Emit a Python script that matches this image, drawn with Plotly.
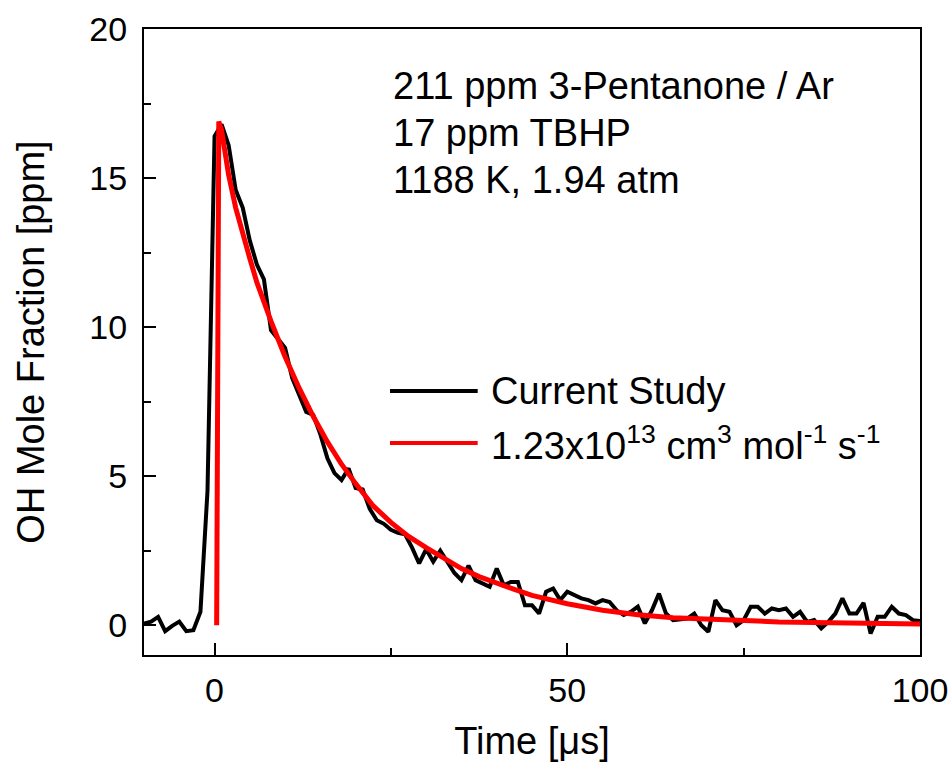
import plotly.graph_objects as go

# Measured OH trace (Current Study)
time_meas = list(range(-10, 101))
oh_meas = [
    0.05, 0.12, 0.28, -0.2, -0.02, 0.12, -0.2, -0.17, 0.45, 4.5,   # -10..-1
    16.4, 16.8, 16.1, 14.6, 14.0, 12.9, 12.1, 11.6, 9.9, 9.6,      # 0..9
    9.3, 8.3, 7.7, 7.15, 7.05, 6.4, 5.6, 5.1, 4.87, 5.26,          # 10..19
    4.6, 4.55, 3.9, 3.52, 3.4, 3.2, 3.1, 3.05, 2.6, 2.07,          # 20..29
    2.55, 2.13, 2.5, 2.13, 1.75, 1.51, 2.0, 1.51, 1.4, 1.29,       # 30..39
    1.9, 1.34, 1.45, 1.45, 0.67, 0.67, 0.39, 1.12, 1.23, 0.84,     # 40..49
    1.12, 1.0, 0.9, 0.84, 0.73, 0.84, 0.78, 0.5, 0.34, 0.45,       # 50..59
    0.62, 0.06, 0.5, 1.06, 0.39, 0.17, 0.2, 0.22, 0.39, 0.0,       # 60..69
    -0.22, 0.84, 0.5, 0.45, 0.0, 0.17, 0.62, 0.62, 0.39, 0.56,     # 70..79
    0.5, 0.56, 0.28, 0.45, 0.11, 0.17, -0.11, 0.11, 0.39, 0.9,     # 80..89
    0.39, 0.39, 0.75, -0.28, 0.28, 0.28, 0.62, 0.39, 0.34, 0.17,   # 90..99
    0.14,                                                          # 100
]

# Model fit (k = 1.23e13 cm3 mol-1 s-1)
time_fit = [0.3, 0.6, 1, 2, 3, 4, 5, 6, 7, 8, 9, 10, 12, 14, 16, 18, 20,
            22.5, 25, 27.5, 30, 32.5, 35, 37.5, 40, 42.5, 45, 47.5, 50,
            55, 60, 65, 70, 75, 80, 85, 90, 95, 100]
oh_fit = [0.0, 16.9, 16.6, 15.1, 14.0, 13.1, 12.3, 11.5, 10.8, 10.2, 9.6,
          9.0, 7.95, 7.0, 6.15, 5.4, 4.75, 4.0, 3.45, 2.98, 2.6, 2.25, 1.9,
          1.63, 1.4, 1.2, 1.0, 0.85, 0.72, 0.5, 0.35, 0.25, 0.19, 0.14,
          0.11, 0.09, 0.07, 0.05, 0.04]

series_names = ["Current Study",
                "1.23x10<sup>13</sup> cm<sup>3</sup> mol<sup>-1</sup> s<sup>-1</sup>"]
series_colors = ["#000000", "#ff0000"]
info_lines = ["211 ppm 3-Pentanone / Ar", "17 ppm TBHP", "1188 K, 1.94 atm"]

x_ticks = [0, 50, 100]
y_ticks = [0, 5, 10, 15, 20]

FONT = "Liberation Sans, Arial, sans-serif"

fig = go.Figure()
fig.add_trace(go.Scatter(x=time_meas, y=oh_meas, mode="lines",
                         line=dict(color=series_colors[0], width=4),
                         name=series_names[0], showlegend=False))
fig.add_trace(go.Scatter(x=time_fit, y=oh_fit, mode="lines",
                         line=dict(color=series_colors[1], width=5),
                         name=series_names[1], showlegend=False))

axis_common = dict(showline=True, linecolor="black", linewidth=2, mirror=True,
                   ticks="inside", tickcolor="black", tickwidth=2, ticklen=12,
                   showgrid=False, zeroline=False, automargin=False,
                   tickfont=dict(family=FONT, size=34, color="black"))

fig.update_xaxes(range=[-10, 100], tickvals=x_ticks,
                 minor=dict(ticks="inside", dtick=25, ticklen=7, tickwidth=2,
                            tickcolor="black", showgrid=False),
                 title=dict(text="Time [&#956;s]", font=dict(family=FONT, size=38, color="black"),
                            standoff=20),
                 ticklabelstandoff=4,
                 **axis_common)
fig.update_yaxes(range=[-1, 20], tickvals=y_ticks,
                 minor=dict(ticks="inside", dtick=2.5, ticklen=7, tickwidth=2,
                            tickcolor="black", showgrid=False),
                 title=dict(text="OH Mole Fraction [ppm]", font=dict(family=FONT, size=38, color="black"),
                            standoff=33),
                 ticklabelstandoff=8,
                 **axis_common)

# Info text
info_y = [0.909, 0.834, 0.758]
for txt, yy in zip(info_lines, info_y):
    fig.add_annotation(x=0.318, y=yy, xref="paper", yref="paper", text=txt,
                       showarrow=False, xanchor="left", yanchor="middle",
                       font=dict(family=FONT, size=38, color="black"))

# Custom legend
leg_y = [0.4217, 0.3387]
for name, col, yy in zip(series_names, series_colors, leg_y):
    fig.add_shape(type="line", xref="paper", yref="paper",
                  x0=0.317, x1=0.430, y0=yy, y1=yy,
                  line=dict(color=col, width=4))
    fig.add_annotation(x=0.444, y=yy, xref="paper", yref="paper", text=name,
                       showarrow=False, xanchor="left", yanchor="middle",
                       font=dict(family=FONT, size=38, color="black"))

fig.update_layout(width=952, height=765,
                  margin=dict(l=144, r=32, t=29, b=110),
                  plot_bgcolor="white", paper_bgcolor="white",
                  showlegend=False)

fig.write_html("out.html")
